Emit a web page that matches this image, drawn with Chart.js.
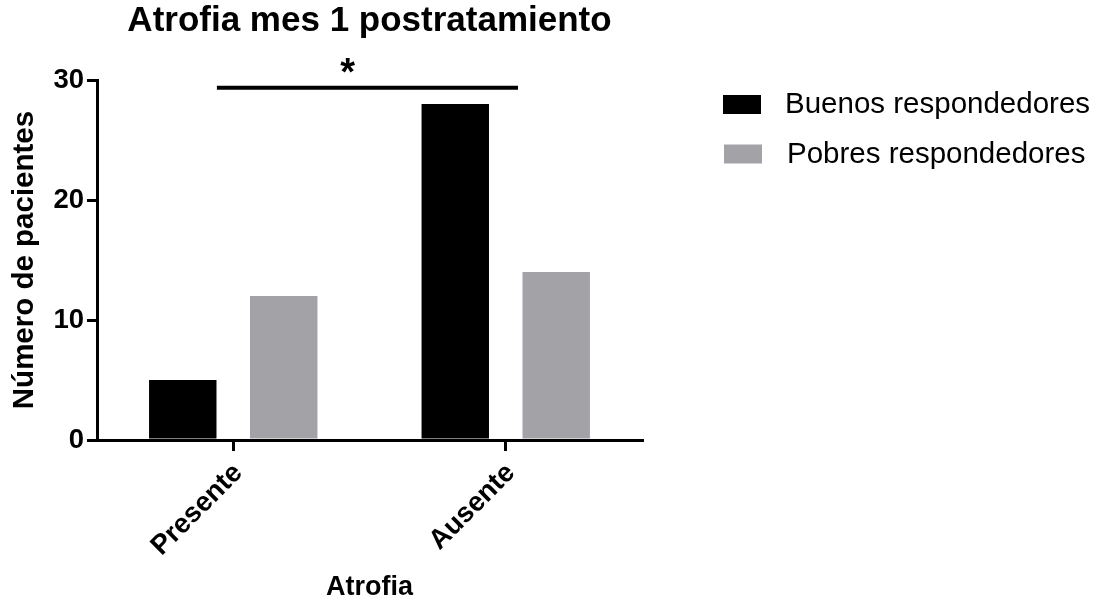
<!DOCTYPE html>
<html>
<head>
<meta charset="utf-8">
<script src="https://cdn.jsdelivr.net/npm/chart.js@4.4.1/dist/chart.umd.min.js"></script>
<style>
  html, body { margin: 0; padding: 0; background: #fff; }
  #wrap { width: 1094px; height: 605px; }
</style>
</head>
<body>
<div id="wrap"><canvas id="c" width="1094" height="605"></canvas></div>
<script>
// Patients per atrophy status, one month after treatment
const categories = ['Presente', 'Ausente'];
const seriesNames = ['Buenos respondedores', 'Pobres respondedores'];
const buenos = [5, 28];
const pobres = [12, 14];
const yTicks = [0, 10, 20, 30];

// Significance bracket between the groups (x in category index units, y in patients)
const sigFrom = -0.06;
const sigTo = 1.045;
const sigY = 29.35;
const sigStarX = 0.42;
const sigLabel = '*';

const FONT = '"Liberation Sans", Arial, Helvetica, sans-serif';
const BLACK = '#000000';
const GREY = '#a3a2a6';

const extras = {
  id: 'extras',
  afterDraw(chart) {
    const { ctx, scales: { x, y }, chartArea } = chart;
    ctx.save();

    // significance bar and star
    const yy = y.getPixelForValue(sigY);
    ctx.strokeStyle = BLACK;
    ctx.lineWidth = 4;
    ctx.beginPath();
    ctx.moveTo(x.getPixelForValue(sigFrom), yy);
    ctx.lineTo(x.getPixelForValue(sigTo), yy);
    ctx.stroke();
    ctx.fillStyle = BLACK;
    ctx.font = 'bold 38px ' + FONT;
    ctx.textAlign = 'center';
    ctx.textBaseline = 'alphabetic';
    ctx.fillText(sigLabel, x.getPixelForValue(sigStarX), yy - 3);

    // legend to the right of the plot
    const lx = chartArea.right + 81;
    chart.data.datasets.forEach((ds, i) => {
      const top = 95 + i * 49.5;
      ctx.fillStyle = ds.backgroundColor;
      ctx.fillRect(lx + i, top, 38, 19);
      ctx.fillStyle = BLACK;
      ctx.font = '29.5px ' + FONT;
      ctx.textAlign = 'left';
      ctx.textBaseline = 'middle';
      ctx.fillText(ds.label, lx + 62 + i * 2, top + 10);
    });
    ctx.restore();
  }
};

new Chart(document.getElementById('c'), {
  type: 'bar',
  data: {
    labels: categories,
    datasets: [
      { label: seriesNames[0], data: buenos, backgroundColor: BLACK, borderWidth: 0,
        categoryPercentage: 0.741, barPercentage: 0.668 },
      { label: seriesNames[1], data: pobres, backgroundColor: GREY, borderWidth: 0,
        categoryPercentage: 0.741, barPercentage: 0.668 }
    ]
  },
  options: {
    responsive: false,
    animation: false,
    devicePixelRatio: 1,
    layout: { padding: { left: 0, right: 452, top: 0, bottom: 0 } },
    plugins: {
      legend: { display: false },
      tooltip: { enabled: false },
      title: {
        display: true,
        text: 'Atrofia mes 1 postratamiento',
        fullSize: false,
        color: BLACK,
        font: { family: FONT, size: 35, weight: 'bold', lineHeight: 1.2 },
        padding: { top: 0, bottom: 38 }
      }
    },
    scales: {
      x: {
        afterFit(scale) { scale.height = 165; },
        grid: { display: true, drawOnChartArea: false, drawTicks: true, offset: false,
                tickLength: 11, tickWidth: 3, tickColor: BLACK, color: BLACK, lineWidth: 3 },
        border: { display: true, color: BLACK, width: 3 },
        ticks: { color: BLACK, font: { family: FONT, size: 27.5, weight: 'bold' },
                 maxRotation: 45, minRotation: 45, padding: 6, labelOffset: 5 },
        title: { display: true, text: 'Atrofia', color: BLACK,
                 font: { family: FONT, size: 27, weight: 'bold', lineHeight: 1.2 },
                 padding: { top: 0, bottom: 1 } }
      },
      y: {
        min: 0,
        max: 30,
        afterFit(scale) { scale.width = 97; },
        afterBuildTicks(scale) { scale.ticks = yTicks.map(v => ({ value: v })); },
        grid: { display: true, drawOnChartArea: false, drawTicks: true,
                tickLength: 10, tickWidth: 3, tickColor: BLACK, color: BLACK, lineWidth: 3 },
        border: { display: true, color: BLACK, width: 3 },
        ticks: { color: BLACK, font: { family: FONT, size: 27.5, weight: 'bold' }, padding: 3 },
        title: { display: true, text: 'Número de pacientes', color: BLACK,
                 font: { family: FONT, size: 29.5, weight: 'bold', lineHeight: 1.2 },
                 padding: { top: 7.5, bottom: 0 } }
      }
    }
  },
  plugins: [extras]
});
</script>
</body>
</html>
